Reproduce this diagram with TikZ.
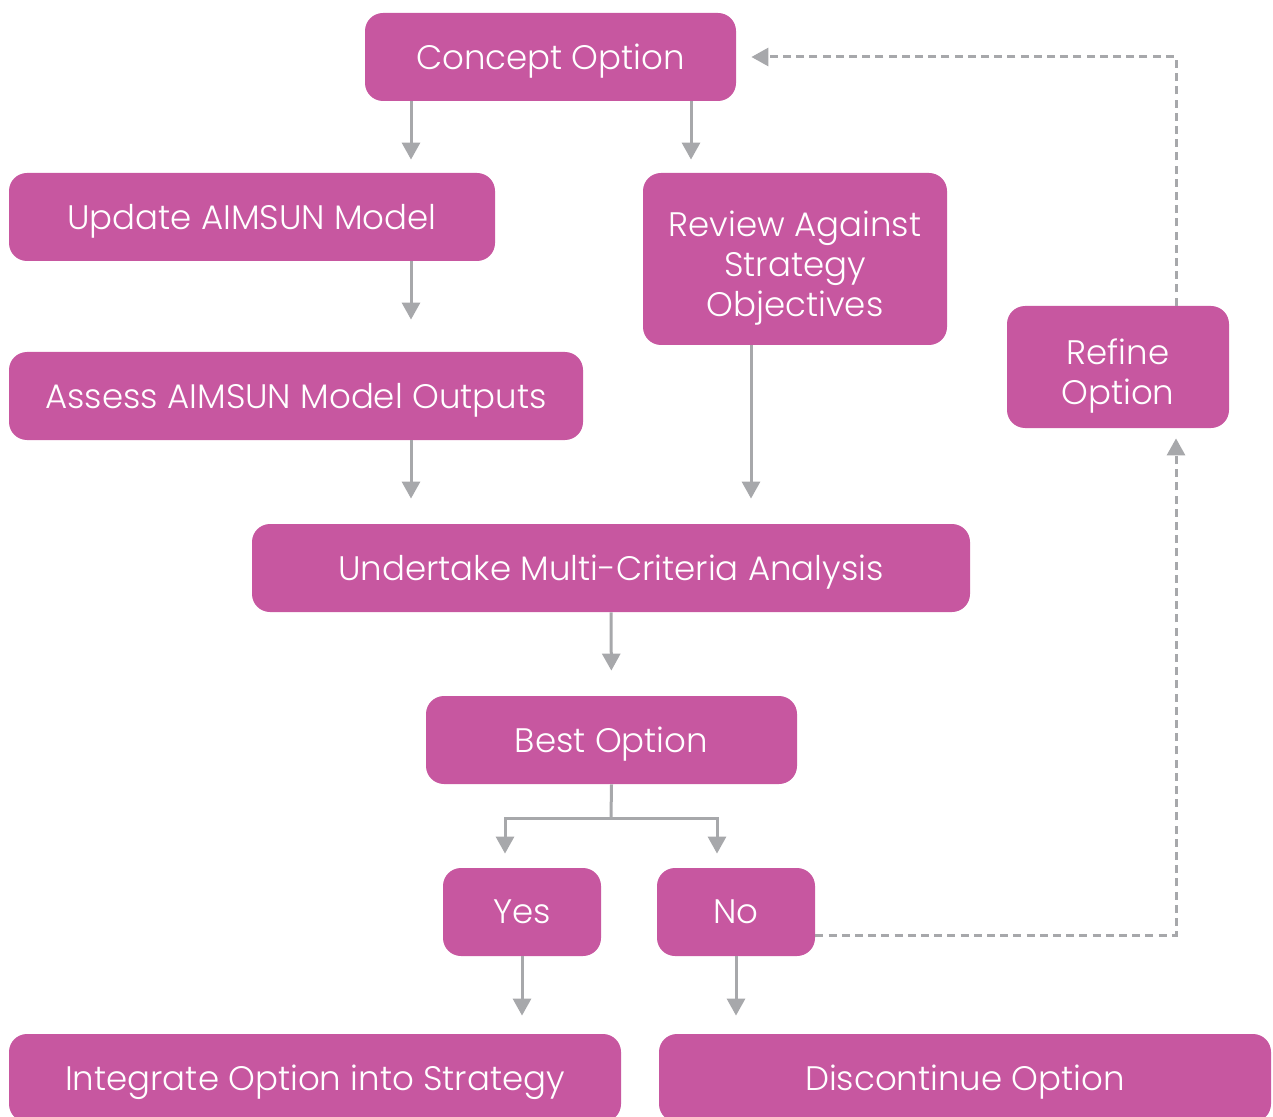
\documentclass[tikz,border=0pt]{standalone}
\usepackage{fontspec}
\setmainfont{Poppins Light}
\usetikzlibrary{arrows.meta}
\definecolor{boxpink}{HTML}{C757A0}
\definecolor{linegrey}{HTML}{A7A8AB}
\newcommand\toppad{\rule{0pt}{17.5pt}}
\tikzset{
  box/.style={fill=boxpink, rounded corners=9pt, text=white, inner sep=0pt, align=center,
    text depth=0pt, font=\fontsize{17pt}{20pt}\selectfont},
  flow/.style={draw=linegrey, line width=1.5pt, -{Triangle[width=9pt,length=8.5pt]}},
  loop/.style={flow, dash pattern=on 4pt off 2.6pt},
}
\begin{document}
\begin{tikzpicture}[x=0.5pt,y=-0.5pt]
\useasboundingbox (0,0) rectangle (1273,1117);
\clip (0,0) rectangle (1273,1117);
\node[box, minimum width=185.5pt, minimum height=44pt] (concept) at (550.5,57) {Concept Option};
\node[box, minimum width=243pt, minimum height=44pt] (update) at (252,217) {Update AIMSUN Model};
\node[box, minimum width=152pt, minimum height=86pt] (review) at (795,259) {\toppad Review Against\\Strategy\\Objectives};
\node[box, minimum width=287pt, minimum height=44pt] (assess) at (296,396) {Assess AIMSUN Model Outputs};
\node[box, minimum width=111pt, minimum height=61pt] (refine) at (1118,367) {\toppad Refine\\Option};
\node[box, minimum width=359pt, minimum height=44pt] (mca) at (611,568) {Undertake Multi-Criteria Analysis};
\node[box, minimum width=185.5pt, minimum height=44pt] (best) at (611.5,740) {Best Option};
\node[box, minimum width=79pt, minimum height=44pt] (yes) at (522,912) {Yes};
\node[box, minimum width=79pt, minimum height=44pt] (no) at (736,912) {No};
\node[box, minimum width=306pt, minimum height=44pt] (integrate) at (315,1078) {Integrate Option into Strategy};
\node[box, minimum width=306pt, minimum height=44pt] (discont) at (965,1078) {Discontinue Option};
\coordinate (split) at (611,818);
\coordinate (rloopN) at (1176,57);
\coordinate (rloopS) at (1176,935);

\draw[flow, shorten >=6.5pt] (concept.south -| 411,0) -- (update.north -| 411,0);
\draw[flow, shorten >=6.5pt] (concept.south -| 691,0) -- (review.north -| 691,0);
\draw[flow, shorten >=16pt] (update.south -| 411,0) -- (assess.north -| 411,0);
\draw[flow, shorten >=12.5pt] (assess.south -| 411,0) -- (mca.north -| 411,0);
\draw[flow, shorten >=12.5pt] (review.south -| 751,0) -- (mca.north -| 751,0);
\draw[flow, shorten >=12.5pt] (mca.south) -- (best.north);
\draw[draw=linegrey, line width=1.5pt] (best.south) -- (split);
\draw[flow, shorten >=7pt] (split) -| (yes.north -| 505,0);
\draw[flow, shorten >=7pt] (split) -| (no.north -| 717,0);
\draw[flow, shorten >=9pt] (yes.south) -- (integrate.north -| yes.south);
\draw[flow, shorten >=9pt] (no.south) -- (discont.north -| no.south);
\draw[loop, shorten >=5pt] (no.east |- rloopS) -- (rloopS) -- (refine.south -| rloopS);
\draw[loop, shorten >=7.5pt] (refine.north -| rloopN) -- (rloopN) -- (concept.east |- rloopN);
\end{tikzpicture}
\end{document}
